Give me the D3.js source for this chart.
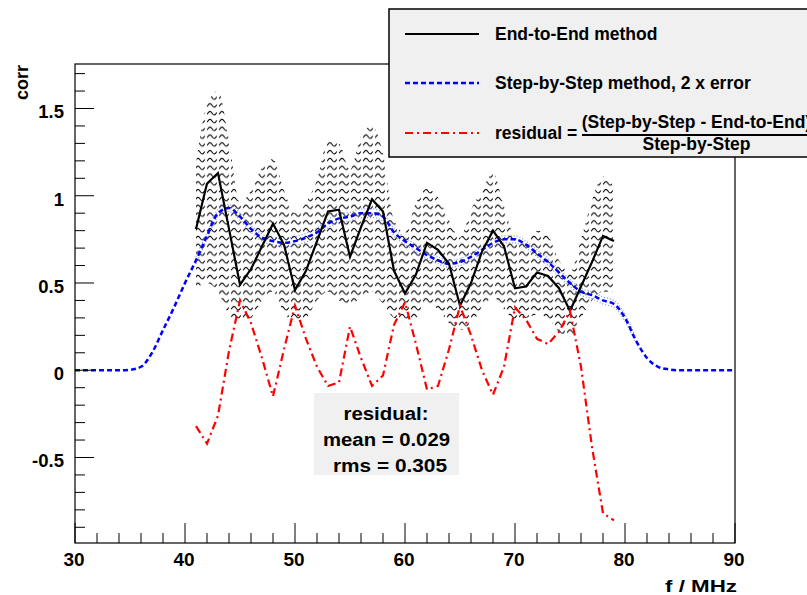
<!DOCTYPE html>
<html><head><meta charset="utf-8">
<script src="https://cdn.jsdelivr.net/npm/d3@7/dist/d3.min.js"></script>
<style>
body{margin:0;background:#fff}
svg{display:block;font-family:"Liberation Sans",Arial,Helvetica,sans-serif;font-weight:bold}
</style>
</head><body>
<svg id="chart" width="807" height="595"></svg>
<script>
// ---------------- data ----------------
const freqE2E   = [41,42,43,44,45,46,47,48,49,50,51,52,53,54,55,56,57,58,59,60,61,62,63,64,65,66,67,68,69,70,71,72,73,74,75,76,77,78,79];
const endToEnd  = [0.81,1.07,1.13,0.81,0.49,0.58,0.71,0.84,0.72,0.46,0.57,0.74,0.91,0.92,0.65,0.82,0.98,0.91,0.57,0.44,0.55,0.73,0.69,0.61,0.37,0.50,0.68,0.80,0.71,0.47,0.48,0.56,0.54,0.47,0.34,0.48,0.62,0.77,0.74];
const bandHigh  = [1.18,1.52,1.60,1.32,0.96,1.03,1.16,1.21,1.03,0.90,0.96,1.09,1.31,1.30,1.15,1.34,1.40,1.24,0.86,0.79,0.96,1.04,0.99,0.86,0.76,0.92,1.03,1.13,0.94,0.76,0.74,0.80,0.77,0.63,0.56,0.75,0.97,1.11,1.05];
const bandLow   = [0.47,0.50,0.45,0.32,0.28,0.30,0.40,0.45,0.33,0.28,0.30,0.40,0.45,0.40,0.37,0.42,0.45,0.38,0.30,0.28,0.30,0.38,0.35,0.27,0.23,0.27,0.35,0.42,0.35,0.29,0.30,0.32,0.30,0.22,0.19,0.30,0.40,0.45,0.45];

const freqS2S   = [30,31,32,33,34,35,36,37,38,39,40,41,42,43,44,45,46,47,48,49,50,51,52,53,54,55,56,57,58,59,60,61,62,63,64,65,66,67,68,69,70,71,72,73,74,75,76,77,78,79,80,81,82,83,84,85,86,87,88,89,90];
const stepByStep= [0,0,0,0,0,0.003,0.02,0.10,0.23,0.36,0.50,0.63,0.77,0.90,0.93,0.88,0.81,0.76,0.74,0.73,0.74,0.76,0.79,0.84,0.87,0.88,0.90,0.90,0.88,0.79,0.74,0.70,0.66,0.63,0.61,0.62,0.65,0.69,0.73,0.75,0.75,0.72,0.67,0.62,0.56,0.50,0.45,0.43,0.40,0.38,0.30,0.17,0.07,0.02,0.005,0,0,0,0,0,0];
const stepErr   = [0,0,0,0,0,0,0,0,0,0,0,0.02,0.02,0.02,0.02,0.02,0.02,0.02,0.02,0.025,0.025,0.025,0.025,0.025,0.025,0.025,0.025,0.025,0.025,0.02,0.02,0.02,0.02,0.02,0.02,0.02,0.02,0.02,0.02,0.02,0.02,0.02,0.02,0.02,0.02,0.02,0.02,0.02,0.02,0.02,0.02,0.015,0,0,0,0,0,0,0,0,0];

const freqRes   = [41,42,43,44,45,46,47,48,49,50,51,52,53,54,55,56,57,58,59,60,61,62,63,64,65,66,67,68,69,70,71,72,73,74,75,76,77,78,79];
const residual  = [-0.32,-0.42,-0.26,0.11,0.40,0.27,0.07,-0.15,0.12,0.37,0.18,0.02,-0.09,-0.07,0.25,0.07,-0.09,-0.03,0.26,0.39,0.15,-0.11,-0.09,0.12,0.37,0.20,0.0,-0.14,0.02,0.36,0.29,0.18,0.15,0.22,0.34,0.02,-0.44,-0.82,-0.86];

const xTicks = [30,40,50,60,70,80,90];
const xMinor = [32,34,36,38,42,44,46,48,52,54,56,58,62,64,66,68,72,74,76,78,82,84,86,88];
const yTicks = [-0.5,0,0.5,1,1.5];
const yTickLabels = ["-0.5","0","0.5","1","1.5"];
const yMinor = [-0.9,-0.8,-0.7,-0.6,-0.4,-0.3,-0.2,-0.1,0.1,0.2,0.3,0.4,0.6,0.7,0.8,0.9,1.1,1.2,1.3,1.4,1.6,1.7];
const xTitle = "f / MHz";
const yTitle = "corr";
const legendLabels = ["End-to-End method","Step-by-Step method, 2 x error","residual ="];
const fracNum = "(Step-by-Step - End-to-End)";
const fracDen = "Step-by-Step";
const statsLines = ["residual:","mean = 0.029","rms = 0.305"];

// ---------------- drawing ----------------
const svg = d3.select("#chart");
const L = 75, R = 735, T = 64, B = 543;
const x = d3.scaleLinear().domain([30,90]).range([L,R]);
const y = d3.scaleLinear().domain([-0.99,1.755]).range([B,T]);

// wavy hatch pattern
const defs = svg.append("defs");
const pat = defs.append("pattern").attr("id","wavy").attr("patternUnits","userSpaceOnUse")
  .attr("width",12).attr("height",7.8).attr("x",2).attr("y",0);
pat.append("path").attr("d","M1.2,5 C3,1.6 4.6,1.6 6,4 C7.4,6.4 9,6.6 10.8,3.4")
  .attr("fill","none").attr("stroke","#000").attr("stroke-width",1.05);
defs.append("clipPath").attr("id","frameClip").append("rect")
  .attr("x",L).attr("y",T).attr("width",R-L).attr("height",B-T);

const plot = svg.append("g").attr("clip-path","url(#frameClip)");

// hatched error band of End-to-End
const bandData = freqE2E.map((f,i)=>({f, hi:bandHigh[i], lo:bandLow[i]}));
plot.append("path").datum(bandData)
  .attr("d", d3.area().x(d=>x(d.f)).y0(d=>y(d.lo)).y1(d=>y(d.hi)).curve(d3.curveMonotoneX))
  .attr("fill","url(#wavy)").attr("stroke","none");

// Step-by-step error (dotted) envelope
const s2s = freqS2S.map((f,i)=>({f, v:stepByStep[i], e:stepErr[i]}));
[1,-1].forEach(sgn=>{
  plot.append("path").datum(s2s)
    .attr("d", d3.line().defined(d=>d.e>0).x(d=>x(d.f)).y(d=>y(d.v+sgn*d.e)).curve(d3.curveMonotoneX))
    .attr("fill","none").attr("stroke","#5a6cff").attr("stroke-width",1.2)
    .attr("stroke-dasharray","1,2").attr("opacity",0.75);
});
// Step-by-step line
plot.append("path").datum(s2s)
  .attr("d", d3.line().x(d=>x(d.f)).y(d=>y(d.v)).curve(d3.curveMonotoneX))
  .attr("fill","none").attr("stroke","#0000ff").attr("stroke-width",2.5)
  .attr("stroke-dasharray","5,3");

// End-to-end line
plot.append("path").datum(freqE2E.map((f,i)=>({f,v:endToEnd[i]})))
  .attr("d", d3.line().x(d=>x(d.f)).y(d=>y(d.v)))
  .attr("fill","none").attr("stroke","#000").attr("stroke-width",2.2).attr("stroke-linejoin","miter");

// residual
plot.append("path").datum(freqRes.map((f,i)=>({f,v:residual[i]})))
  .attr("d", d3.line().x(d=>x(d.f)).y(d=>y(d.v)))
  .attr("fill","none").attr("stroke","#ff0000").attr("stroke-width",2.2)
  .attr("stroke-dasharray","8,4,2,4");

// frame
svg.append("rect").attr("x",L).attr("y",T).attr("width",R-L).attr("height",B-T)
  .attr("fill","none").attr("stroke","#000").attr("stroke-width",1.2);

// x axis ticks (inward)
const ax = svg.append("g");
ax.selectAll(".xM").data(xTicks).join("line")
  .attr("x1",d=>x(d)).attr("x2",d=>x(d)).attr("y1",B).attr("y2",B-20).attr("stroke","#000");
ax.selectAll(".xm").data(xMinor).join("line")
  .attr("x1",d=>x(d)).attr("x2",d=>x(d)).attr("y1",B).attr("y2",B-10).attr("stroke","#000");
ax.selectAll(".xl").data(xTicks).join("text")
  .attr("x",d=>x(d)-1).attr("y",566).attr("text-anchor","middle")
  .attr("font-size",19).text(d=>d);
// y axis ticks
ax.selectAll(".yM").data(yTicks).join("line")
  .attr("x1",L).attr("x2",L+19).attr("y1",d=>y(d)).attr("y2",d=>y(d)).attr("stroke","#000");
ax.selectAll(".ym").data(yMinor).join("line")
  .attr("x1",L).attr("x2",L+10).attr("y1",d=>y(d)).attr("y2",d=>y(d)).attr("stroke","#000");
ax.selectAll(".yl").data(yTicks).join("text")
  .attr("x",64).attr("y",d=>y(d)+10).attr("text-anchor","end")
  .attr("font-size",18.5).text((d,i)=>yTickLabels[i]);

// axis titles
svg.append("text").attr("x",737).attr("y",592).attr("text-anchor","end")
  .attr("font-size",17).attr("textLength",72).attr("lengthAdjust","spacingAndGlyphs").text(xTitle);
svg.append("text").attr("transform","translate(28,65) rotate(-90)").attr("text-anchor","end")
  .attr("font-size",18).text(yTitle);

// stats box
svg.append("rect").attr("x",314).attr("y",393).attr("width",145).attr("height",82).attr("fill","#f0f0f0");
const statsLen = [85,127,114];
const statsY = [420,446,472];
const statsX = [386,386.5,390];
svg.selectAll(".st").data(statsLines).join("text")
  .attr("x",(d,i)=>statsX[i]).attr("y",(d,i)=>statsY[i]).attr("text-anchor","middle")
  .attr("font-size",17.5).attr("textLength",(d,i)=>statsLen[i]).attr("lengthAdjust","spacingAndGlyphs")
  .text(d=>d);

// legend
const lg = svg.append("g");
lg.append("rect").attr("x",389).attr("y",9).attr("width",440).attr("height",148)
  .attr("fill","#f0f0f0").attr("stroke","#000").attr("stroke-width",1.5);
const rowsY = [34,83,133];
const styles = [
  {stroke:"#000", dash:null, w:2.2},
  {stroke:"#0000ff", dash:"5,3", w:2.5},
  {stroke:"#ff0000", dash:"8,4,2,4", w:2.2}
];
styles.forEach((s,i)=>{
  lg.append("line").attr("x1",405).attr("x2",479).attr("y1",rowsY[i]).attr("y2",rowsY[i])
    .attr("stroke",s.stroke).attr("stroke-width",s.w).attr("stroke-dasharray",s.dash);
  lg.append("text").attr("x",495).attr("y",rowsY[i]+6).attr("font-size",17.5).text(legendLabels[i]);
});
lg.append("text").attr("x",696.5).attr("y",128).attr("text-anchor","middle").attr("font-size",17.5).text(fracNum);
lg.append("line").attr("x1",582).attr("x2",820).attr("y1",135).attr("y2",135).attr("stroke","#000").attr("stroke-width",2);
lg.append("text").attr("x",696.5).attr("y",150).attr("text-anchor","middle").attr("font-size",17.5).text(fracDen);
</script>
</body></html>
